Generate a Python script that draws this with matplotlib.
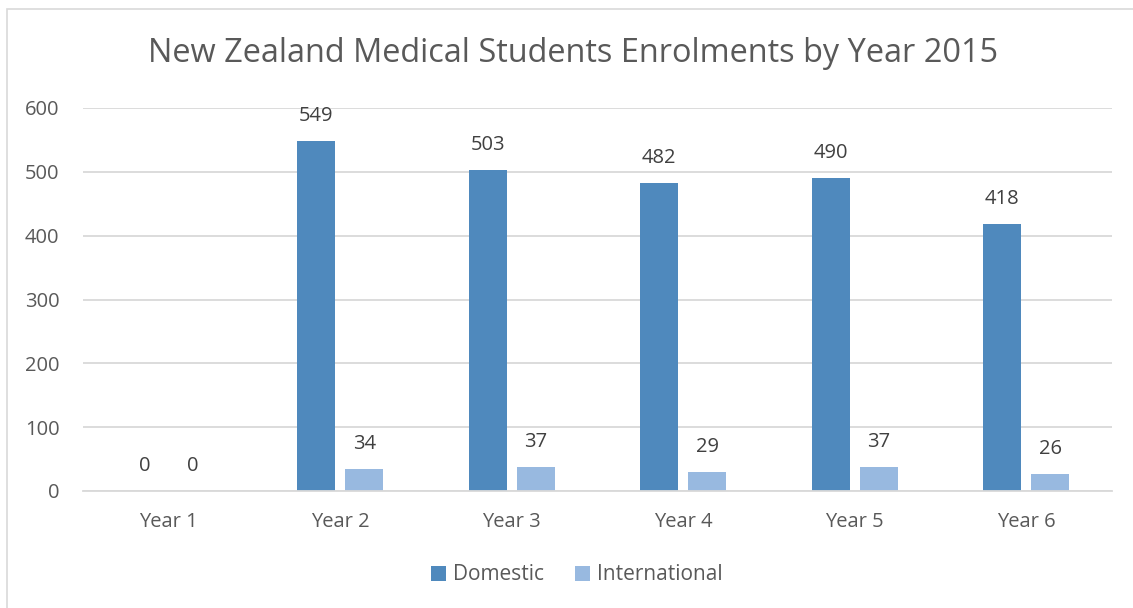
import numpy as np
import matplotlib.pyplot as plt
from matplotlib.patches import Rectangle

years = ["Year 1", "Year 2", "Year 3", "Year 4", "Year 5", "Year 6"]
domestic = [0, 549, 503, 482, 490, 418]
international = [0, 34, 37, 29, 37, 26]

dom_color = "#4F89BD"
int_color = "#98B9E0"
text_color = "#595959"
grid_color = "#D9D9D9"

plt.rcParams["font.family"] = ["Open Sans", "DejaVu Sans"]

W, H = 1133, 608
fig = plt.figure(figsize=(W / 100, H / 100), dpi=100)

# outer chart border
fig.patches.append(Rectangle((7 / W, -0.01), 1.05, 1 - 9 / H + 0.01,
                             transform=fig.transFigure, fill=False,
                             edgecolor=grid_color, linewidth=1.2))

ax = fig.add_axes([83 / W, 1 - 491 / H, (1112 - 83) / W, (491 - 108) / H])

x = np.arange(len(years))
width = 0.22
offset = 0.14
bars_d = ax.bar(x - offset, domestic, width, color=dom_color, label="Domestic")
bars_i = ax.bar(x + offset, international, width, color=int_color, label="International")

for bars, vals in [(bars_d, domestic), (bars_i, international)]:
    for b, v in zip(bars, vals):
        ax.annotate(str(v), (b.get_x() + b.get_width() / 2, v),
                    xytext=(0, 18), textcoords="offset points",
                    ha="center", va="center", fontsize=14.5, color="#404040")

ax.set_xlim(-0.5, len(years) - 0.5)
ax.set_ylim(0, 600)
ax.set_yticks(range(0, 601, 100))
ax.set_xticks(x)
ax.set_xticklabels(years)
ax.tick_params(axis="both", length=0, labelsize=14.5, labelcolor=text_color)
ax.tick_params(axis="y", pad=17)
ax.tick_params(axis="x", pad=15)
ax.grid(axis="y", color=grid_color, linewidth=1.3)
ax.set_axisbelow(True)
for s in ["top", "right", "left"]:
    ax.spines[s].set_visible(False)
ax.spines["bottom"].set_color(grid_color)
ax.spines["bottom"].set_linewidth(1.3)

fig.text(573 / W, 1 - 53 / H, "New Zealand Medical Students Enrolments by Year 2015",
         ha="center", va="center", fontsize=23.4, color=text_color)

fig.legend(handles=[bars_d, bars_i], loc="center", bbox_to_anchor=(577 / W, 1 - 575 / H),
           ncol=2, frameon=False, fontsize=15, labelcolor=text_color,
           handlelength=0.7, handleheight=0.7, handletextpad=0.35, columnspacing=1.5)

fig.savefig("out.png", dpi=100)
